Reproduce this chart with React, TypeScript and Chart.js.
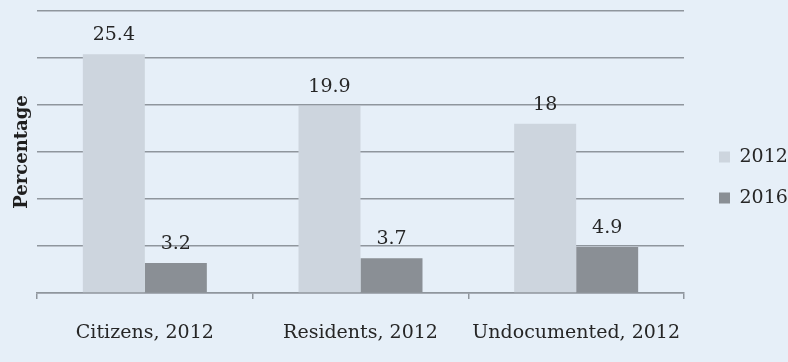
import React, { useEffect, useRef } from "react";
import { Chart, registerables } from "chart.js";

Chart.register(...registerables);

const categories = ["Citizens, 2012", "Residents, 2012", "Undocumented, 2012"];
const seriesNames = ["2012", "2016"];
const values2012 = [25.4, 19.9, 18];
const values2016 = [3.2, 3.7, 4.9];
const yMin = 0;
const yMax = 30;
const yStep = 5;

const BG = "#e6eff8";
const GRID = "#8f969d";
const TEXT = "#262626";
const C2012 = "#cdd5de";
const C2016 = "#8a8f95";
const FONT = "'DejaVu Serif', serif";

const valueLabels = {
  id: "valueLabels",
  afterDatasetsDraw(chart: any) {
    const ctx = chart.ctx;
    ctx.save();
    ctx.font = `19px ${FONT}`;
    ctx.fillStyle = TEXT;
    ctx.textAlign = "center";
    ctx.textBaseline = "alphabetic";
    chart.data.datasets.forEach((ds: any, di: number) => {
      const meta = chart.getDatasetMeta(di);
      meta.data.forEach((el: any, i: number) => {
        ctx.fillText(String(ds.data[i]), el.x, el.y - 14);
      });
    });
    ctx.restore();
  },
};

export default function App() {
  const ref = useRef<HTMLCanvasElement | null>(null);
  useEffect(() => {
    if (!ref.current) return;
    const chart = new Chart(ref.current, {
      type: "bar",
      data: {
        labels: categories,
        datasets: [
          { label: seriesNames[0], data: values2012, backgroundColor: C2012, xAxisID: "x", yAxisID: "y" },
          { label: seriesNames[1], data: values2016, backgroundColor: C2016, xAxisID: "x", yAxisID: "y" },
        ],
      },
      options: {
        animation: false,
        responsive: false,
        devicePixelRatio: 1,
        layout: { padding: { top: 0, right: 0, bottom: 7, left: 0 } },
        datasets: { bar: { categoryPercentage: 0.575, barPercentage: 1.0 } },
        plugins: {
          tooltip: { enabled: false },
          legend: {
            position: "right",
            maxWidth: 91,
            labels: {
              boxWidth: 11,
              boxHeight: 11,
              padding: 22,
              color: TEXT,
              font: { family: FONT, size: 19 },
            },
          },
        },
        scales: {
          x: {
            type: "category",
            position: "bottom",
            afterFit(s: any) { s.height = 62; },
            grid: { display: true, drawOnChartArea: false, drawTicks: true, tickLength: 6, color: GRID, lineWidth: 1.5, offset: true },
            border: { display: true, color: GRID, width: 1.5 },
            ticks: { color: TEXT, font: { family: FONT, size: 19 }, padding: 23, maxRotation: 0 },
          },
          xTop: {
            type: "category",
            position: "top",
            afterFit(s: any) { s.height = 11; },
            grid: { display: false },
            border: { display: false },
            ticks: { display: false },
          },
          y: {
            type: "linear",
            position: "left",
            min: yMin,
            max: yMax,
            afterFit(s: any) { s.width = 37; },
            ticks: { display: false, stepSize: yStep },
            grid: { color: GRID, lineWidth: 1.5, drawTicks: false },
            border: { display: false },
            title: {
              display: true,
              text: "Percentage",
              color: "#1e1e1e",
              font: { family: FONT, size: 18, weight: "bold" },
              padding: { top: 12, bottom: 0 },
            },
          },
          yRight: {
            type: "linear",
            position: "right",
            afterFit(s: any) { s.width = 13; },
            ticks: { display: false },
            grid: { display: false },
            border: { display: false },
          },
        },
      },
      plugins: [valueLabels],
    } as any);
    return () => chart.destroy();
  }, []);
  return (
    <div style={{ position: "fixed", left: 0, top: 0, width: 788, height: 362, background: BG }}>
      <canvas ref={ref} width={788} height={362} style={{ display: "block" }} />
    </div>
  );
}
